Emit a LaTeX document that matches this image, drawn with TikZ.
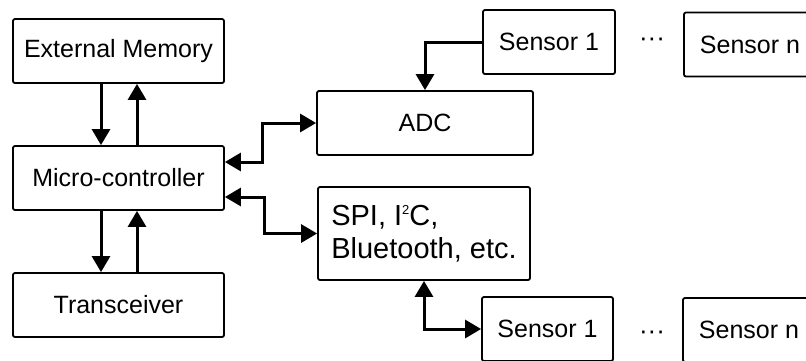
\documentclass[tikz,border=0pt]{standalone}
\usepackage{fontspec}
\setmainfont{Liberation Sans}
\usetikzlibrary{arrows.meta}
\tikzstyle{block}=[draw,line width=1.8pt,rounded corners=2pt,minimum height=64pt,inner sep=0pt,font=\fontsize{25}{29}\selectfont]
\tikzstyle{link}=[draw,line width=3pt,-{Triangle[length=16pt,width=18pt]}]
\tikzstyle{link2}=[draw,line width=3pt,{Triangle[length=16pt,width=18pt]}-{Triangle[length=16pt,width=18pt]}]
\tikzstyle{dots}=[inner sep=0pt,font=\fontsize{26}{30}\selectfont]

\begin{document}
\begin{tikzpicture}[x=1pt,y=-1pt]
          \useasboundingbox (0,0) rectangle (806,360);
          \clip (0,0) rectangle (806,360);
          % left column
          \node[block,minimum width=211pt] (mem) at (118.5,51) {External Memory};
          \node[block,minimum width=211pt] (mcu) at (118.5,178) {Micro-controller};
          \node[block,minimum width=211pt] (trx) at (118.5,305) {Transceiver};
          % interfaces
          \node[block,minimum width=216pt] (adc) at (425,123) {ADC};
          \node[block,minimum width=212pt,minimum height=93pt,align=left,font=\fontsize{29}{33}\selectfont] (spi) at (424,233.5) {SPI, I\raisebox{11pt}{\fontsize{13}{13}\selectfont 2}C,\\Bluetooth, etc.};
          % sensors
          \node[block,minimum width=132pt] (sa1) at (549,42) {Sensor 1};
          \node[block,minimum width=132pt] (san) at (750,44.5) {Sensor n};
          \node[block,minimum width=131pt] (sb1) at (547.5,329) {Sensor 1};
          \node[block,minimum width=132pt] (sbn) at (749,330) {Sensor n};
          \node[dots] (da) at (652,42) {\textperiodcentered\textperiodcentered\textperiodcentered};
          \node[dots] (db) at (652,335) {\textperiodcentered\textperiodcentered\textperiodcentered};
          % connectors
          \draw[link] ([xshift=-17.5pt]mem.south) -- ([xshift=-17.5pt]mcu.north);
          \draw[link] ([xshift=18.5pt]mcu.north) -- ([xshift=18.5pt]mem.south);
          \draw[link] ([xshift=-17.5pt]mcu.south) -- ([xshift=-17.5pt]trx.north);
          \draw[link] ([xshift=18.5pt]trx.north) -- ([xshift=18.5pt]mcu.south);
          \draw[link] (sa1.west) -| (adc.north);
          \draw[link2] ([yshift=16pt]mcu.east) -- ++(38,0) |- (adc.west);
          \draw[link2] ([yshift=-19pt]mcu.east) -- ++(40,0) |- (spi.west);
          \draw[link2] (spi.south) |- (sb1.west);

\end{tikzpicture}
\end{document}
